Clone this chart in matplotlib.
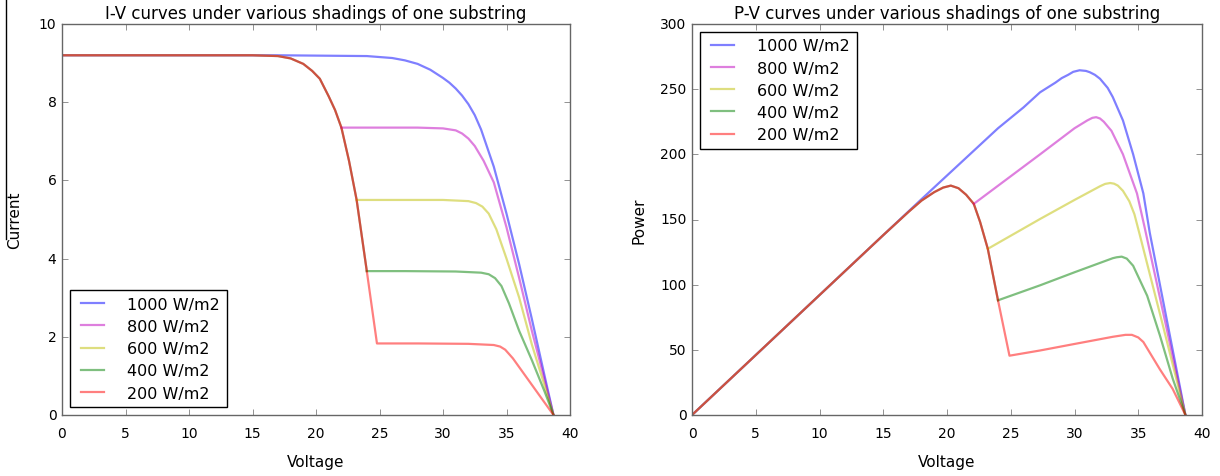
import matplotlib
matplotlib.use("Agg")
import matplotlib.pyplot as plt
from matplotlib.lines import Line2D

plt.style.use('classic')
plt.rcParams['font.family'] = ['DejaVu Sans']

labels = ['1000 W/m2', '800 W/m2', '600 W/m2', '400 W/m2', '200 W/m2']
colors = ['b', 'm', 'y', 'g', 'r']

# shared path of the shaded substring (I-V), branch points at 22.0 / 23.2 / 24.0 / 24.8 V
shadeV = [0, 15, 17, 18, 19, 19.7, 20.3, 21, 21.5, 22.0, 22.6, 23.2, 24.0, 24.8]
shadeI = [9.2, 9.2, 9.18, 9.12, 8.98, 8.8, 8.6, 8.15, 7.8, 7.35, 6.5, 5.5, 3.68, 1.83]
branch = [None, 10, 12, 13, 14]

# I-V tails
iv1000V = [0, 17, 24, 26, 27, 28, 29, 30, 30.5, 31, 31.5, 32, 32.5, 33, 34, 35, 36, 37, 38, 38.7]
iv1000I = [9.2, 9.2, 9.18, 9.13, 9.07, 8.98, 8.83, 8.62, 8.5, 8.35, 8.17, 7.95, 7.67, 7.3, 6.35, 5.15, 3.85, 2.45, 1.0, 0]
iv800V = [25, 28, 30, 31, 31.5, 32, 32.5, 33.2, 34, 35, 36, 37, 38, 38.7]
iv800I = [7.35, 7.35, 7.33, 7.28, 7.2, 7.07, 6.88, 6.5, 5.95, 4.8, 3.5, 2.15, 0.9, 0]
iv600V = [26, 30, 32, 32.6, 33.1, 33.6, 34.2, 35, 36, 37, 38, 38.7]
iv600I = [5.5, 5.5, 5.47, 5.42, 5.33, 5.15, 4.75, 4.0, 3.0, 1.8, 0.75, 0]
iv400V = [27, 31, 33, 33.6, 34.1, 34.6, 35.2, 36, 37, 38, 38.7]
iv400I = [3.68, 3.67, 3.64, 3.6, 3.5, 3.3, 2.85, 2.15, 1.4, 0.6, 0]
iv200V = [28, 32, 34, 34.5, 34.9, 35.5, 38.7]
iv200I = [1.83, 1.82, 1.79, 1.75, 1.67, 1.45, 0]

# shared path of the shaded substring (P-V)
shadePV = [0, 15, 17, 18, 19, 19.7, 20.3, 20.9, 21.5, 22.1, 22.6, 23.2, 24.0, 24.9]
shadeP = [0, 138, 156, 164.5, 171, 174.5, 176, 174, 169, 162, 148, 127.5, 88, 45.5]

pv1000V = [0, 18, 24, 26, 27.3, 28.5, 29.0, 29.5, 29.9, 30.4, 30.9, 31.2, 31.6, 32.0, 32.6, 33.0, 33.8, 34.6, 35.4, 35.9, 37.3, 38.7]
pv1000P = [0, 165.6, 220, 236, 247.6, 255, 258.5, 261, 263.3, 264.5, 264, 263, 261, 258, 251, 244, 226, 200, 170, 140, 70, 0]
pv800V = [27.3, 30.0, 31.0, 31.4, 31.7, 32.0, 32.3, 32.9, 33.8, 34.9, 35.5, 37.1, 38.7]
pv800P = [200, 220, 226, 228, 228.5, 227.5, 225, 218, 200, 170, 144, 72, 0]
pv600V = [27.3, 30, 32.0, 32.4, 32.8, 33.1, 33.4, 33.8, 34.3, 34.7, 35.1, 36.9, 38.7]
pv600P = [150.4, 165, 175.5, 177.3, 178, 177.5, 176, 172, 164, 154, 139, 70, 0]
pv400V = [27.3, 30, 32.5, 33.0, 33.3, 33.7, 34.1, 34.6, 35.7, 36.7, 37.7, 38.7]
pv400P = [99.5, 109.5, 118.5, 120.3, 121, 121.5, 120, 114.5, 91.5, 61, 28, 0]
pv200V = [27.3, 30, 33, 34.0, 34.5, 35.0, 35.4, 36.7, 37.7, 38.7]
pv200P = [49.5, 54.5, 60, 61.5, 61.5, 59.5, 56, 35, 20, 0]

ivTails = [(iv1000V, iv1000I), (iv800V, iv800I), (iv600V, iv600I), (iv400V, iv400I), (iv200V, iv200I)]
pvTails = [(pv1000V, pv1000P), (pv800V, pv800P), (pv600V, pv600P), (pv400V, pv400P), (pv200V, pv200P)]


def build(tail, k, sv, sy):
    # series branch off the shaded path at their own point
    if branch[k] is None:
        return tail
    n = branch[k]
    if k == 4:
        return sv[:n] + tail[0], sy[:n] + tail[1]
    return sv[n-1:n] + tail[0], sy[n-1:n] + tail[1]


fig = plt.figure(figsize=(12.2, 4.77), dpi=100, facecolor='white')
ax1 = fig.add_axes([62/1220, 1-416/477, 508/1220, 391/477])
ax2 = fig.add_axes([692/1220, 1-416/477, 510/1220, 391/477])

for k in range(5):
    v, i = build(ivTails[k], k, shadeV, shadeI)
    ax1.plot(v, i, color=colors[k], alpha=0.5, lw=1.6, label=labels[k])
    v, p = build(pvTails[k], k, shadePV, shadeP)
    ax2.plot(v, p, color=colors[k], alpha=0.5, lw=1.6, label=labels[k])
    if k == 0:
        # the overlapped part of all curves (blended tone under the red curve)
        ax1.plot(shadeV[:13], shadeI[:13], color='#99a380', lw=1.6)
        ax2.plot(shadePV[:13], shadeP[:13], color='#99a380', lw=1.6)

ax1.set_xlim(0, 40)
ax1.set_ylim(0, 10)
ax2.set_xlim(0, 40)
ax2.set_ylim(0, 300)

ax1.set_title('I-V curves under various shadings of one substring', fontsize=12, pad=4)
ax2.set_title('P-V curves under various shadings of one substring', fontsize=12, pad=4)
ax1.set_xlabel('Voltage', fontsize=11, labelpad=10)
ax2.set_xlabel('Voltage', fontsize=11, labelpad=10)
ax1.set_ylabel('Current', fontsize=11, labelpad=12)
ax2.set_ylabel('Power', fontsize=11, labelpad=10)

for ax in (ax1, ax2):
    ax.tick_params(labelsize=10, color='0.4')
    ax.tick_params(axis='x', pad=8)
    for s in ax.spines.values():
        s.set_edgecolor('0.4')
    ax.set_facecolor('white')

ax1.legend(loc='lower left', fontsize=11.5, handletextpad=1.2, labelspacing=0.45)
ax2.legend(loc='upper left', fontsize=11.5, handletextpad=1.2, labelspacing=0.45)

# thin vertical stroke at the left edge of the picture
fig.add_artist(Line2D([6/1220, 6/1220], [1, 1-240/477], color='black', lw=1))

fig.savefig('out.png', dpi=100, facecolor='white')
